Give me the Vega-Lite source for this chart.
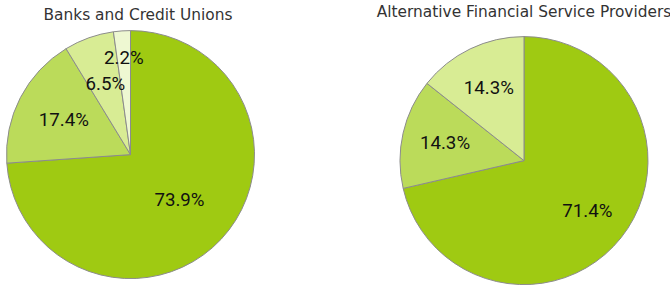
{
  "$schema": "https://vega.github.io/schema/vega-lite/v6.json",
  "padding": {"left": 0, "right": 0, "top": 4.6, "bottom": 0},
  "background": "white",
  "spacing": 115,
  "config": {
    "view": {"stroke": null},
    "title": {"font": "DejaVu Sans", "fontSize": 15.4, "fontWeight": "normal", "color": "#333333", "baseline": "alphabetic"}
  },
  "datasets": {
    "banks": [
      {"slice": "a", "idx": 1, "v": 0.739},
      {"slice": "b", "idx": 2, "v": 0.174},
      {"slice": "c", "idx": 3, "v": 0.065},
      {"slice": "d", "idx": 4, "v": 0.022}
    ],
    "afsp": [
      {"slice": "a", "idx": 1, "v": 0.714},
      {"slice": "b", "idx": 2, "v": 0.143},
      {"slice": "c", "idx": 3, "v": 0.143}
    ]
  },
  "hconcat": [
    {
      "width": 261,
      "height": 238,
      "title": {"text": "Banks and Credit Unions", "offset": 5.2, "dx": 7.5},
      "data": {"name": "banks"},
      "encoding": {
        "theta": {"field": "v", "type": "quantitative", "stack": true},
        "order": {"field": "idx", "type": "quantitative"}
      },
      "layer": [
        {
          "mark": {"type": "arc", "outerRadius": 124, "stroke": "#8c8c8c", "strokeWidth": 1},
          "encoding": {
            "color": {"field": "slice", "type": "nominal", "legend": null,
              "scale": {"domain": ["a", "b", "c", "d"], "range": ["#9fca12", "#bbdb5a", "#d8ec94", "#eef8d2"]}}
          }
        },
        {
          "mark": {"type": "text", "radius": 67, "font": "Roboto", "fontSize": 18.7, "color": "#111111"},
          "encoding": {"text": {"condition": {"test": "datum.v > 0.5", "field": "v", "type": "quantitative", "format": ".1%"}, "value": ""}}
        },
        {
          "mark": {"type": "text", "radius": 75, "font": "Roboto", "fontSize": 18.7, "color": "#111111"},
          "encoding": {"text": {"condition": {"test": "datum.v <= 0.5 && datum.v >= 0.05", "field": "v", "type": "quantitative", "format": ".1%"}, "value": ""}}
        },
        {
          "mark": {"type": "text", "radius": 97, "font": "Roboto", "fontSize": 18.7, "color": "#111111"},
          "encoding": {"text": {"condition": {"test": "datum.v < 0.05", "field": "v", "type": "quantitative", "format": ".1%"}, "value": ""}}
        }
      ]
    },
    {
      "width": 262,
      "height": 250,
      "title": {"text": "Alternative Financial Service Providers", "offset": 14.2},
      "data": {"name": "afsp"},
      "encoding": {
        "theta": {"field": "v", "type": "quantitative", "stack": true},
        "order": {"field": "idx", "type": "quantitative"}
      },
      "layer": [
        {
          "mark": {"type": "arc", "outerRadius": 124, "stroke": "#8c8c8c", "strokeWidth": 1},
          "encoding": {
            "color": {"field": "slice", "type": "nominal", "legend": null,
              "scale": {"domain": ["a", "b", "c", "d"], "range": ["#9fca12", "#bbdb5a", "#d8ec94", "#eef8d2"]}}
          }
        },
        {
          "mark": {"type": "text", "radius": 81, "font": "Roboto", "fontSize": 18.7, "color": "#111111"},
          "encoding": {"text": {"field": "v", "type": "quantitative", "format": ".1%"}}
        }
      ]
    }
  ]
}
